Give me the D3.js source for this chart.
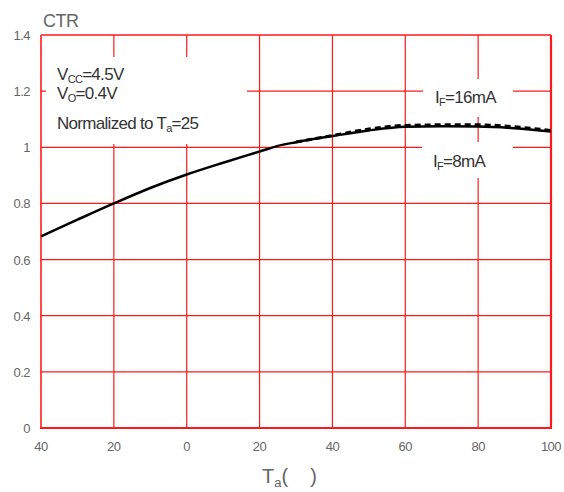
<!DOCTYPE html>
<html>
<head>
<meta charset="utf-8">
<script src="https://cdn.jsdelivr.net/npm/d3@7"></script>
<style>
  body { margin: 0; background: #fff; }
  text { font-family: "Liberation Sans", Arial, sans-serif; }
</style>
</head>
<body>
<svg id="chart" width="564" height="492"></svg>
<script>
// temperature (deg C) and normalized CTR
let tempTicks = [-40, -20, 0, 20, 40, 60, 80, 100]
let ctrTicks = [0, 0.2, 0.4, 0.6, 0.8, 1, 1.2, 1.4]

let temp8 = [-40, -30, -20, -10, 0, 10, 20, 22, 25, 30, 40, 50, 60, 70, 80, 90, 100]
let ctr8 = [0.683, 0.742, 0.8, 0.855, 0.903, 0.945, 0.985, 0.993, 1.005, 1.018, 1.04, 1.06, 1.073, 1.075, 1.074, 1.068, 1.056]

let temp16 = [30, 40, 50, 60, 70, 80, 90, 100]
let ctr16 = [1.019, 1.042, 1.065, 1.078, 1.08, 1.08, 1.073, 1.06]

function main() {
    let svg = d3.select('#chart'),
        margin = {top: 35, bottom: 64, left: 41, right: 13},
        width = svg.attr('width') - margin.left - margin.right,
        height = svg.attr('height') - margin.top - margin.bottom

    let xScale = d3.scaleLinear().domain([-40, 100]).range([margin.left, margin.left + width]),
        yScale = d3.scaleLinear().domain([0, 1.4]).range([margin.top + height, margin.top])

    let red = '#ff1a1a'

    // grid
    svg.append('g')
        .selectAll('line')
        .data(tempTicks.slice(1, -1))
        .enter()
        .append('line')
        .attr('x1', d => xScale(d)).attr('x2', d => xScale(d))
        .attr('y1', margin.top).attr('y2', margin.top + height)
        .attr('stroke', red).attr('stroke-width', 1.2)

    svg.append('g')
        .selectAll('line')
        .data(ctrTicks.slice(1, -1))
        .enter()
        .append('line')
        .attr('x1', margin.left).attr('x2', margin.left + width)
        .attr('y1', d => yScale(d)).attr('y2', d => yScale(d))
        .attr('stroke', red).attr('stroke-width', 1.2)

    // white boxes behind the annotations
    svg.append('rect').attr('x', 46).attr('y', 57).attr('width', 201).attr('height', 87).attr('fill', '#fff')
    svg.append('rect').attr('x', 423).attr('y', 79).attr('width', 90).attr('height', 38).attr('fill', '#fff')
    svg.append('rect').attr('x', 422).attr('y', 142).attr('width', 91).attr('height', 36).attr('fill', '#fff')

    // frame
    svg.append('line').attr('x1', margin.left).attr('x2', margin.left + width)
        .attr('y1', margin.top).attr('y2', margin.top).attr('stroke', red).attr('stroke-width', 1.6)
    svg.append('line').attr('x1', margin.left).attr('x2', margin.left)
        .attr('y1', margin.top).attr('y2', margin.top + height).attr('stroke', red).attr('stroke-width', 1.6)
    svg.append('line').attr('x1', margin.left - 1).attr('x2', margin.left + width + 1)
        .attr('y1', margin.top + height).attr('y2', margin.top + height).attr('stroke', red).attr('stroke-width', 2.2)
    svg.append('line').attr('x1', margin.left + width).attr('x2', margin.left + width)
        .attr('y1', margin.top).attr('y2', margin.top + height).attr('stroke', red).attr('stroke-width', 2.2)

    // curves
    let line = d3.line().x(d => xScale(d[0])).y(d => yScale(d[1])).curve(d3.curveMonotoneX)

    svg.append('path')
        .datum(d3.zip(temp16, ctr16))
        .attr('d', line)
        .attr('fill', 'none').attr('stroke', '#000').attr('stroke-width', 3)
        .attr('stroke-dasharray', '6,4')

    svg.append('path')
        .datum(d3.zip(temp8, ctr8))
        .attr('d', line)
        .attr('fill', 'none').attr('stroke', '#000').attr('stroke-width', 2.5)

    // tick labels
    svg.append('g')
        .selectAll('text')
        .data(ctrTicks)
        .enter()
        .append('text')
        .attr('x', 30)
        .attr('y', d => yScale(d) + 5)
        .attr('text-anchor', 'end')
        .attr('font-size', 13)
        .attr('letter-spacing', -0.5)
        .attr('fill', '#666')
        .text(d => d3.format('~g')(d))

    svg.append('g')
        .selectAll('text')
        .data(tempTicks)
        .enter()
        .append('text')
        .attr('x', d => xScale(d))
        .attr('y', 451)
        .attr('text-anchor', 'middle')
        .attr('font-size', 13)
        .attr('letter-spacing', -0.5)
        .attr('fill', '#666')
        .text(d => Math.abs(d))

    // axis titles
    svg.append('text').attr('x', 43).attr('y', 27)
        .attr('font-size', 18).attr('letter-spacing', -0.5).attr('fill', '#666').text('CTR')

    let xt = svg.append('text').attr('x', 262).attr('y', 483)
        .attr('font-size', 20).attr('fill', '#666')
    xt.append('tspan').text('T')
    xt.append('tspan').attr('font-size', 13).attr('dy', 4).text('a')
    xt.append('tspan').attr('dy', -4).text('(\u00a0\u00a0\u00a0\u00a0)')

    // annotations
    let note = (x, y, main, sub, rest) => {
        let t = svg.append('text').attr('x', x).attr('y', y)
            .attr('font-size', 17).attr('letter-spacing', -0.7).attr('fill', '#333')
        t.append('tspan').text(main)
        t.append('tspan').attr('font-size', 11).attr('dy', 3).text(sub)
        t.append('tspan').attr('dy', -3).text(rest)
    }
    note(57, 80, 'V', 'CC', '=4.5V')
    note(57, 99, 'V', 'O', '=0.4V')
    note(57, 129, 'Normalized to T', 'a', '=25')
    note(435, 103, 'I', 'F', '=16mA')
    note(433, 167, 'I', 'F', '=8mA')
}

main()
</script>
</body>
</html>
